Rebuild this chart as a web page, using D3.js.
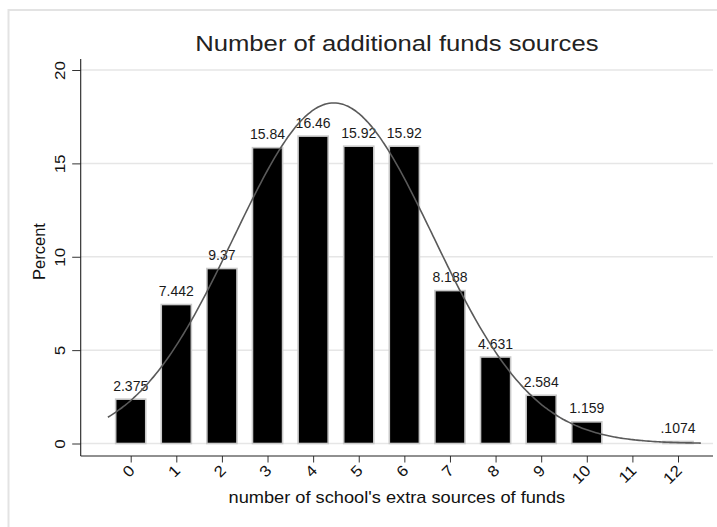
<!DOCTYPE html>
<html>
<head>
<meta charset="utf-8">
<script src="https://cdn.jsdelivr.net/npm/d3@7/dist/d3.min.js"></script>
<style>
  html, body { margin: 0; padding: 0; background: #fff; }
  svg { display: block; font-family: "Liberation Sans", Arial, Helvetica, sans-serif; }
</style>
</head>
<body>
<svg id="chart" width="717" height="527"></svg>
<script>
// Share of schools by number of additional funding sources (percent)
const categories = [0, 1, 2, 3, 4, 5, 6, 7, 8, 9, 10, 12];
const percents = [2.375, 7.442, 9.37, 15.84, 16.46, 15.92, 15.92, 8.188, 4.631, 2.584, 1.159, 0.1074];
const valueLabels = ["2.375", "7.442", "9.37", "15.84", "16.46", "15.92", "15.92", "8.188", "4.631", "2.584", "1.159", ".1074"];
const xTicks = [0, 1, 2, 3, 4, 5, 6, 7, 8, 9, 10, 11, 12];
const yTicks = [0, 5, 10, 15, 20];

const titleText = "Number of additional funds sources";
const xTitle = "number of school's extra sources of funds";
const yTitle = "Percent";

const svg = d3.select("#chart");

// plot region
const plot = { left: 80.7, right: 713, top: 59, bottom: 456 };

const x = d3.scaleLinear().domain([0, 12]).range([130.7, 678]);
const y = d3.scaleLinear().domain([0, 20]).range([443.5, 70]);

// the graph's typeface runs a little wider than Liberation Sans
const wide = 1.14;
const tickWide = 1.1;

// outer graph frame
svg.append("rect")
  .attr("x", 8.5).attr("y", 10).attr("width", 730).attr("height", 540)
  .attr("fill", "#fff").attr("stroke", "#e3e3e3").attr("stroke-width", 2);

// horizontal grid
svg.append("g").selectAll("line").data(yTicks).join("line")
  .attr("x1", plot.left).attr("x2", plot.right)
  .attr("y1", d => y(d)).attr("y2", d => y(d))
  .attr("stroke", "#e6e6e6").attr("stroke-width", 1.5);

// bars
const barW = 0.66 * (x(1) - x(0));
svg.append("g").selectAll("rect").data(categories).join("rect")
  .attr("x", d => x(d) - barW / 2)
  .attr("width", barW)
  .attr("y", (d, i) => y(percents[i]))
  .attr("height", (d, i) => y(0) - y(percents[i]))
  .attr("fill", "#000")
  .attr("stroke", "#c9c9c9").attr("stroke-width", 1.6);

// value labels
svg.append("g").selectAll("text").data(categories).join("text")
  .attr("x", d => x(d))
  .attr("y", (d, i) => y(percents[i]) - 8.5)
  .attr("text-anchor", "middle")
  .attr("font-size", 14)
  .attr("fill", "#1a1a1a")
  .text((d, i) => valueLabels[i]);

// normal density with the sample mean and sd, scaled to percent per unit bin
const total = d3.sum(percents);
const mean = d3.sum(categories, (c, i) => c * percents[i]) / total;
const sd = Math.sqrt(d3.sum(categories, (c, i) => (c - mean) ** 2 * percents[i]) / total);
const curveX = d3.range(-0.5, 12.5001, 0.05);
const density = v => 100 / (sd * Math.sqrt(2 * Math.PI)) * Math.exp(-0.5 * ((v - mean) / sd) ** 2);
svg.append("path")
  .datum(curveX)
  .attr("d", d3.line().x(v => x(v)).y(v => y(density(v))).curve(d3.curveBasis))
  .attr("fill", "none")
  .attr("stroke", "#5a5a5a")
  .attr("stroke-width", 1.6);

// y axis
const yAxis = svg.append("g")
  .attr("transform", `translate(${plot.left},0)`)
  .call(d3.axisLeft(y).tickValues(yTicks).tickSize(8.5).tickFormat(d3.format("d")));
yAxis.select(".domain").remove();
yAxis.selectAll(".tick line").attr("stroke", "#333");
yAxis.selectAll(".tick text")
  .attr("x", 0).attr("dy", 0)
  .attr("transform", `translate(-15.5,0) rotate(-90) scale(${tickWide},1)`)
  .attr("text-anchor", "middle")
  .attr("font-size", 15.5)
  .attr("font-family", "Liberation Sans, Arial, sans-serif")
  .attr("fill", "#111");
svg.append("line")
  .attr("x1", plot.left).attr("x2", plot.left)
  .attr("y1", plot.top).attr("y2", plot.bottom)
  .attr("stroke", "#222").attr("stroke-width", 1.1);

// x axis
const xAxis = svg.append("g")
  .attr("transform", `translate(0,${plot.bottom})`)
  .call(d3.axisBottom(x).tickValues(xTicks).tickSize(6.5).tickFormat(d3.format("d")));
xAxis.select(".domain").remove();
xAxis.selectAll(".tick line").attr("stroke", "#333");
xAxis.selectAll(".tick text")
  .attr("x", 0).attr("y", 0).attr("dy", 0)
  .attr("transform", `translate(4.5,15.5) rotate(-45) scale(${tickWide},1)`)
  .attr("text-anchor", "end")
  .attr("font-size", 15.5)
  .attr("font-family", "Liberation Sans, Arial, sans-serif")
  .attr("fill", "#111");
svg.append("line")
  .attr("x1", plot.left).attr("x2", plot.right)
  .attr("y1", plot.bottom).attr("y2", plot.bottom)
  .attr("stroke", "#222").attr("stroke-width", 1.1);

// titles
const midX = (plot.left + plot.right) / 2;
svg.append("text")
  .attr("transform", `translate(${midX},51) scale(${wide},1)`)
  .attr("text-anchor", "middle")
  .attr("font-size", 22.5)
  .attr("fill", "#222")
  .text(titleText);

svg.append("text")
  .attr("transform", `translate(${midX},503) scale(${wide},1)`)
  .attr("text-anchor", "middle")
  .attr("font-size", 16)
  .attr("fill", "#111")
  .text(xTitle);

svg.append("text")
  .attr("transform", "translate(44.5,251.5) rotate(-90)")
  .attr("text-anchor", "middle")
  .attr("font-size", 16.5)
  .attr("fill", "#111")
  .text(yTitle);
</script>
</body>
</html>
